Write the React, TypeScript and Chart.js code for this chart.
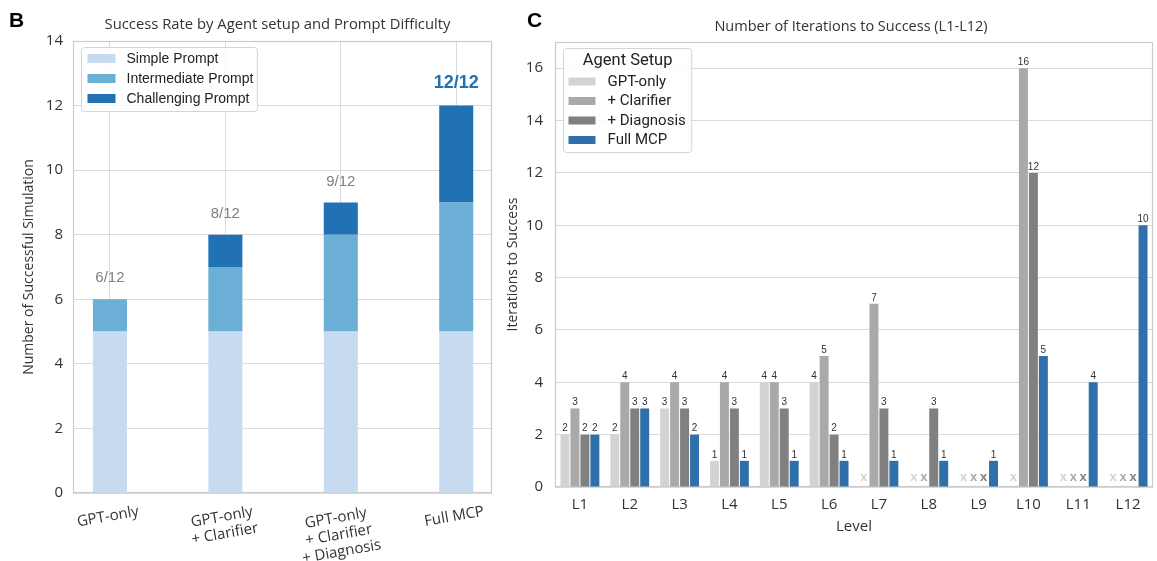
import React, { useEffect, useRef } from "react";
import { Chart, registerables } from "chart.js";

Chart.register(...registerables);

// ---------- Panel B data ----------
const setups: string[][] = [
  ["GPT-only"],
  ["GPT-only", "+ Clarifier"],
  ["GPT-only", "+ Clarifier", "+ Diagnosis"],
  ["Full MCP"],
];
const simplePrompt = [5, 5, 5, 5];
const intermediatePrompt = [1, 2, 3, 4];
const challengingPrompt = [0, 1, 1, 3];
const totalPrompts = 12;
const yTicksB = [0, 2, 4, 6, 8, 10, 12, 14];

// ---------- Panel C data ----------
const levels = ["L1", "L2", "L3", "L4", "L5", "L6", "L7", "L8", "L9", "L10", "L11", "L12"];
const gptOnly = [2, 2, 3, 1, 4, 4, null, null, null, null, null, null];
const clarifier = [3, 4, 4, 4, 4, 5, 7, null, null, 16, null, null];
const diagnosis = [2, 3, 3, 3, 3, 2, 3, 3, null, 12, null, null];
const fullMcp = [2, 3, 2, 1, 1, 1, 1, 1, 1, 5, 4, 10];
const yTicksC = [0, 2, 4, 6, 8, 10, 12, 14, 16];

const SANS = '"Open Sans", sans-serif';
const ARIAL = '"Liberation Sans", Arial, sans-serif';
const NARROW = 'Roboto, "Liberation Sans", sans-serif';
const TEXT = "#333333";
const GRID = "#dadada";
const FRAME = "#cccccc";

function drawFrame(chart: any) {
  const { ctx, chartArea: a } = chart;
  ctx.save();
  ctx.strokeStyle = FRAME;
  ctx.lineWidth = 1.2;
  ctx.strokeRect(Math.round(a.left) + 0.5, Math.round(a.top) + 0.5, Math.round(a.right - a.left) - 1, Math.round(a.bottom - a.top) - 1);
  ctx.restore();
}

function roundRect(ctx: CanvasRenderingContext2D, x: number, y: number, w: number, h: number, r: number) {
  ctx.beginPath();
  ctx.moveTo(x + r, y);
  ctx.lineTo(x + w - r, y);
  ctx.arcTo(x + w, y, x + w, y + r, r);
  ctx.lineTo(x + w, y + h - r);
  ctx.arcTo(x + w, y + h, x + w - r, y + h, r);
  ctx.lineTo(x + r, y + h);
  ctx.arcTo(x, y + h, x, y + h - r, r);
  ctx.lineTo(x, y + r);
  ctx.arcTo(x, y, x + r, y, r);
  ctx.closePath();
}

interface LegendCfg {
  dx: number; dy: number; font: string; title?: string; titleFont?: string; titleY?: number;
  firstRow: number; rowH: number; lastPad: number; padL: number; swW: number; swH: number; gap: number; padR: number;
}

function drawLegend(chart: any, cfg: LegendCfg) {
  const { ctx, chartArea } = chart;
  const x0 = Math.round(chartArea.left + cfg.dx) + 0.5;
  const y0 = Math.round(chartArea.top + cfg.dy) + 0.5;
  const items = chart.data.datasets.map((d: any) => ({ label: d.label, color: d.backgroundColor }));
  ctx.save();
  ctx.font = cfg.font;
  const textW = Math.max(...items.map((i: any) => ctx.measureText(i.label).width));
  let w = cfg.padL + cfg.swW + cfg.gap + textW + cfg.padR;
  if (cfg.title && cfg.titleFont) {
    ctx.font = cfg.titleFont;
    w = Math.max(w, ctx.measureText(cfg.title).width + 16);
  }
  const h = cfg.firstRow + (items.length - 1) * cfg.rowH + cfg.lastPad;
  roundRect(ctx, x0, y0, w, h, 3);
  ctx.fillStyle = "rgba(255,255,255,0.85)";
  ctx.fill();
  ctx.strokeStyle = "#d4d4d4";
  ctx.lineWidth = 1;
  ctx.stroke();
  if (cfg.title && cfg.titleFont) {
    ctx.font = cfg.titleFont;
    ctx.fillStyle = "#222";
    ctx.textAlign = "center";
    ctx.textBaseline = "middle";
    ctx.fillText(cfg.title, x0 + w / 2, y0 + (cfg.titleY || 12));
  }
  ctx.font = cfg.font;
  ctx.textAlign = "left";
  ctx.textBaseline = "middle";
  items.forEach((it: any, i: number) => {
    const cy = y0 + cfg.firstRow + i * cfg.rowH;
    ctx.fillStyle = it.color;
    ctx.fillRect(x0 + cfg.padL, cy - cfg.swH / 2, cfg.swW, cfg.swH);
    ctx.fillStyle = "#222";
    ctx.fillText(it.label, x0 + cfg.padL + cfg.swW + cfg.gap, cy + 0.5);
  });
  ctx.restore();
}

const pluginB = {
  id: "panelB",
  beforeDatasetsDraw(chart: any) {
    drawFrame(chart);
  },
  afterDraw(chart: any) {
    const { ctx, chartArea: a, scales } = chart;
    const xs = scales.x;
    const ys = scales.y;
    ctx.save();
    // panel letter
    ctx.fillStyle = "#000";
    ctx.font = `bold 21px ${ARIAL}`;
    ctx.textAlign = "left";
    ctx.textBaseline = "alphabetic";
    ctx.fillText("B", 9, 27);
    // title
    ctx.fillStyle = TEXT;
    ctx.font = `14.8px ${SANS}`;
    ctx.textAlign = "center";
    ctx.textBaseline = "middle";
    ctx.fillText("Success Rate by Agent setup and Prompt Difficulty", (a.left + a.right) / 2 - 5, 25);
    // totals above stacks
    setups.forEach((_, i) => {
      const total = simplePrompt[i] + intermediatePrompt[i] + challengingPrompt[i];
      const x = xs.getPixelForValue(i);
      const yTop = ys.getPixelForValue(total);
      const full = total === totalPrompts;
      ctx.font = full ? `bold 18px ${ARIAL}` : `15px ${ARIAL}`;
      ctx.fillStyle = full ? "#2171b5" : "#7f7f7f";
      ctx.fillText(`${total}/${totalPrompts}`, x, yTop - (full ? 23 : 21));
    });
    // rotated multi-line x labels
    const theta = (10 * Math.PI) / 180;
    const lh = 17;
    ctx.font = `15px ${SANS}`;
    ctx.fillStyle = TEXT;
    setups.forEach((lines, i) => {
      const x = xs.getPixelForValue(i);
      const w = Math.max(...lines.map((l) => ctx.measureText(l).width));
      const hgt = lines.length * lh;
      const bboxH = w * Math.sin(theta) + hgt * Math.cos(theta);
      const cy = a.bottom + 10 + bboxH / 2;
      ctx.save();
      ctx.translate(x - 2, cy);
      ctx.rotate(-theta);
      lines.forEach((l, k) => {
        ctx.fillText(l, 0, (k - (lines.length - 1) / 2) * lh);
      });
      ctx.restore();
    });
    ctx.restore();
    drawLegend(chart, {
      dx: 8, dy: 6, font: `14px ${ARIAL}`, firstRow: 11, rowH: 20, lastPad: 13,
      padL: 6, swW: 28, swH: 9, gap: 11, padR: 4,
    });
  },
};

const pluginC = {
  id: "panelC",
  beforeDatasetsDraw(chart: any) {
    drawFrame(chart);
  },
  afterDraw(chart: any) {
    const { ctx, chartArea: a, scales } = chart;
    const ys = scales.y;
    ctx.save();
    ctx.fillStyle = "#000";
    ctx.font = `bold 21px ${ARIAL}`;
    ctx.textAlign = "left";
    ctx.textBaseline = "alphabetic";
    ctx.fillText("C", 27, 27);
    ctx.fillStyle = TEXT;
    ctx.font = `14.5px ${SANS}`;
    ctx.textAlign = "center";
    ctx.textBaseline = "middle";
    ctx.fillText("Number of Iterations to Success (L1-L12)", (a.left + a.right) / 2 - 3, 27);
    // value labels and missing markers
    chart.data.datasets.forEach((ds: any, di: number) => {
      const meta = chart.getDatasetMeta(di);
      ds.data.forEach((v: number | null, j: number) => {
        const el = meta.data[j];
        if (v === null || v === undefined) {
          ctx.font = `bold 13px ${ARIAL}`;
          ctx.fillStyle = ds.backgroundColor;
          ctx.textBaseline = "middle";
          ctx.fillText("x", el.x, ys.getPixelForValue(0.38));
        } else {
          ctx.font = `10px ${ARIAL}`;
          ctx.fillStyle = TEXT;
          ctx.textBaseline = "bottom";
          ctx.fillText(String(v), el.x, el.y - 1);
        }
      });
    });
    ctx.restore();
    drawLegend(chart, {
      dx: 8, dy: 6, font: `15px ${NARROW}`, title: "Agent Setup", titleFont: `16.5px ${NARROW}`, titleY: 12,
      firstRow: 33, rowH: 19.5, lastPad: 12.5, padL: 5, swW: 27, swH: 8, gap: 12, padR: 6,
    });
  },
};

export default function App() {
  const refB = useRef<HTMLCanvasElement | null>(null);
  const refC = useRef<HTMLCanvasElement | null>(null);

  useEffect(() => {
    const chartB = new Chart(refB.current as HTMLCanvasElement, {
      type: "bar",
      data: {
        datasets: [
          { label: "Simple Prompt", data: simplePrompt.map((v, i) => ({ x: i, y: v })), backgroundColor: "#c6dbef" },
          { label: "Intermediate Prompt", data: intermediatePrompt.map((v, i) => ({ x: i, y: v })), backgroundColor: "#6baed6" },
          { label: "Challenging Prompt", data: challengingPrompt.map((v, i) => ({ x: i, y: v })), backgroundColor: "#2171b5" },
        ],
      },
      options: {
        responsive: false,
        animation: false,
        layout: { padding: { top: 41, right: 8, left: 0, bottom: 0 } },
        plugins: { legend: { display: false }, tooltip: { enabled: false } },
        datasets: { bar: { barPercentage: 0.295, categoryPercentage: 1 } },
        scales: {
          x: {
            type: "linear",
            stacked: true,
            offset: false,
            min: -0.32,
            max: 3.31,
            afterBuildTicks: (s: any) => {
              s.ticks = setups.map((_, i) => ({ value: i }));
            },
            ticks: { display: false },
            grid: { color: GRID, drawTicks: false, offset: false },
            border: { display: false },
            afterFit: (s: any) => {
              s.height = 68;
            },
          },
          y: {
            stacked: true,
            min: 0,
            max: 14,
            afterBuildTicks: (s: any) => {
              s.ticks = yTicksB.map((v) => ({ value: v }));
            },
            ticks: { padding: 10, color: TEXT, font: { family: SANS, size: 15 } },
            grid: { color: GRID, drawTicks: false },
            border: { display: false },
            title: {
              display: true,
              text: "Number of Successful Simulation",
              color: TEXT,
              font: { family: SANS, size: 14 },
              padding: { top: 21, bottom: 0 },
            },
            afterFit: (s: any) => {
              s.width = 73;
            },
          },
        },
      } as any,
      plugins: [pluginB],
    });

    const chartC = new Chart(refC.current as HTMLCanvasElement, {
      type: "bar",
      data: {
        labels: levels,
        datasets: [
          { label: "GPT-only", data: gptOnly, backgroundColor: "#d3d3d3" },
          { label: "+ Clarifier", data: clarifier, backgroundColor: "#a9a9a9" },
          { label: "+ Diagnosis", data: diagnosis, backgroundColor: "#808080" },
          { label: "Full MCP", data: fullMcp, backgroundColor: "#3070aa" },
        ],
      },
      options: {
        responsive: false,
        animation: false,
        layout: { padding: { top: 42, right: 4, left: 0, bottom: 0 } },
        plugins: { legend: { display: false }, tooltip: { enabled: false } },
        datasets: { bar: { barPercentage: 0.9, categoryPercentage: 0.8 } },
        scales: {
          x: {
            ticks: { color: TEXT, font: { family: SANS, size: 15 }, padding: 9, maxRotation: 0, minRotation: 0 },
            grid: { display: false, drawTicks: false },
            border: { display: false },
            title: {
              display: true,
              text: "Level",
              color: TEXT,
              font: { family: SANS, size: 15 },
              padding: { top: 0, bottom: 25 },
            },
            afterFit: (s: any) => {
              s.height = 74;
            },
          },
          y: {
            min: 0,
            max: 17,
            afterBuildTicks: (s: any) => {
              s.ticks = yTicksC.map((v) => ({ value: v }));
            },
            ticks: { padding: 12, color: TEXT, font: { family: SANS, size: 15 } },
            grid: { color: GRID, drawTicks: false },
            border: { display: false },
            title: {
              display: true,
              text: "Iterations to Success",
              color: TEXT,
              font: { family: SANS, size: 14 },
              padding: { top: 5, bottom: 0 },
            },
            afterFit: (s: any) => {
              s.width = 55;
            },
          },
        },
      } as any,
      plugins: [pluginC],
    });

    return () => {
      chartB.destroy();
      chartC.destroy();
    };
  }, []);

  return (
    <div style={{ position: "fixed", left: 0, top: 0, width: 1157, height: 561, background: "#fff", overflow: "hidden" }}>
      <canvas ref={refB} width={500} height={561} style={{ position: "absolute", left: 0, top: 0, display: "block" }} />
      <canvas ref={refC} width={657} height={561} style={{ position: "absolute", left: 500, top: 0, display: "block" }} />
    </div>
  );
}
